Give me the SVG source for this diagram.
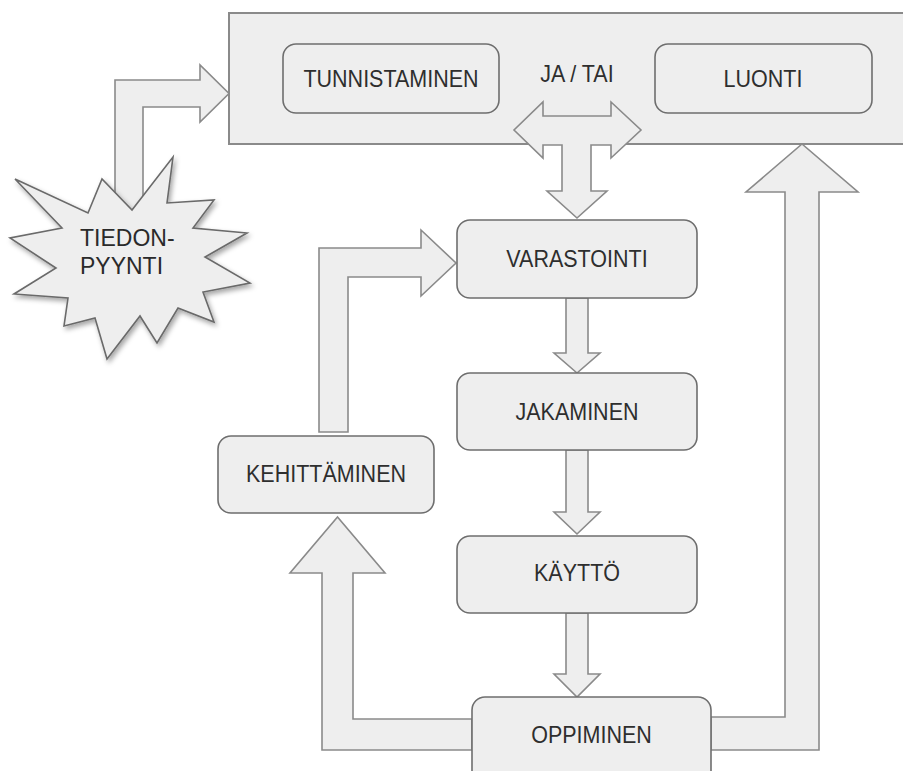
<svg xmlns="http://www.w3.org/2000/svg" width="903" height="771" viewBox="0 0 903 771">
<defs>
<style>
.bg{fill:#ffffff}
.cont{fill:#eeeeee;stroke:#8a8a8a;stroke-width:2}
.box{fill:#eeeeee;stroke:#6e6e6e;stroke-width:1.6}
.arr{fill:#eeeeee;stroke:#8a8a8a;stroke-width:1.6;stroke-linejoin:miter}
.star{fill:#eeeeee;stroke:#6a6a6a;stroke-width:1.6;stroke-linejoin:miter}
.t{font-family:"Liberation Sans",Arial,sans-serif;font-size:21.5px;fill:#2e2e2e;text-anchor:middle}
.ts{font-family:"Liberation Sans",Arial,sans-serif;font-size:23px;fill:#2a2a2a}
</style>
<filter id="sh" x="-20%" y="-20%" width="140%" height="140%">
<feDropShadow dx="2" dy="3" stdDeviation="2.5" flood-color="#000000" flood-opacity="0.35"/>
</filter>
</defs>
<rect class="bg" x="0" y="0" width="903" height="771"/>

<g id="container">
<rect class="cont" x="229" y="13" width="690" height="131"/>
</g>

<g id="connectors">
<polygon class="arr" points="115,220 115,80 200,80 200,65 229,93.5 200,122 200,107 143,107 143,220"/>
<polygon class="arr" points="543,116 611,116 611,102 641,130 611,158 611,145 591,145 591,191 607,191 577,218 547,191 562,191 562,145 543,145 543,158 514,130 543,102"/>
<polygon class="arr" points="566,298 588,298 588,353 600,353 577,373 554,353 566,353"/>
<polygon class="arr" points="566,450 588,450 588,512 600,512 577,534 554,512 566,512"/>
<polygon class="arr" points="566,613 588,613 588,674 600,674 577,697 554,674 566,674"/>
<polygon class="arr" points="472,719 353,719 353,573 385,573 337.5,517 290,573 322,573 322,750 472,750"/>
<polygon class="arr" points="711,717 785,717 785,192 746,192 802,144 858,192 819,192 819,750 711,750"/>
<polygon class="arr" points="319,432 319,248 421,248 421,230 456,263 421,296 421,277 348,277 348,432"/>
</g>

<g id="tunnistaminen">
<rect class="box" x="283" y="44" width="216" height="69" rx="13"/>
<text class="t" transform="translate(391,87) scale(1,1.1)">TUNNISTAMINEN</text>
</g>
<g id="ja-tai">
<text class="t" transform="translate(577,82) scale(1,1.1)">JA / TAI</text>
</g>
<g id="luonti">
<rect class="box" x="655" y="44" width="217" height="69" rx="13"/>
<text class="t" transform="translate(763,87) scale(1,1.1)">LUONTI</text>
</g>

<g id="tiedonpyynti">
<polygon class="star" filter="url(#sh)" points="15,179 88,213 102,179 132,210 173,157 167,203 214,200 193,228 247,233 205,257 250,283 203,292 214,322 178,308 157,343 140,316 107,359 95,318 64,326 68,298 14,294 56,268 10,238 62,228"/>
<text class="ts" transform="translate(80,246) scale(1,1.05)">TIEDON-</text>
<text class="ts" transform="translate(80,274) scale(1,1.05)">PYYNTI</text>
</g>

<g id="varastointi">
<rect class="box" x="457" y="220" width="240" height="78" rx="13"/>
<text class="t" transform="translate(577,267) scale(1,1.1)">VARASTOINTI</text>
</g>
<g id="jakaminen">
<rect class="box" x="457" y="373" width="240" height="77" rx="13"/>
<text class="t" transform="translate(577,420) scale(1,1.1)">JAKAMINEN</text>
</g>
<g id="kaytto">
<rect class="box" x="457" y="536" width="240" height="77" rx="13"/>
<text class="t" transform="translate(577,581) scale(1,1.1)">KÄYTTÖ</text>
</g>
<g id="oppiminen">
<rect class="box" x="472" y="697" width="239" height="90" rx="13"/>
<text class="t" transform="translate(591.5,743) scale(1,1.1)">OPPIMINEN</text>
</g>
<g id="kehittaminen">
<rect class="box" x="218" y="436" width="216" height="77" rx="13"/>
<text class="t" transform="translate(326,482) scale(1,1.1)">KEHITTÄMINEN</text>
</g>
</svg>
